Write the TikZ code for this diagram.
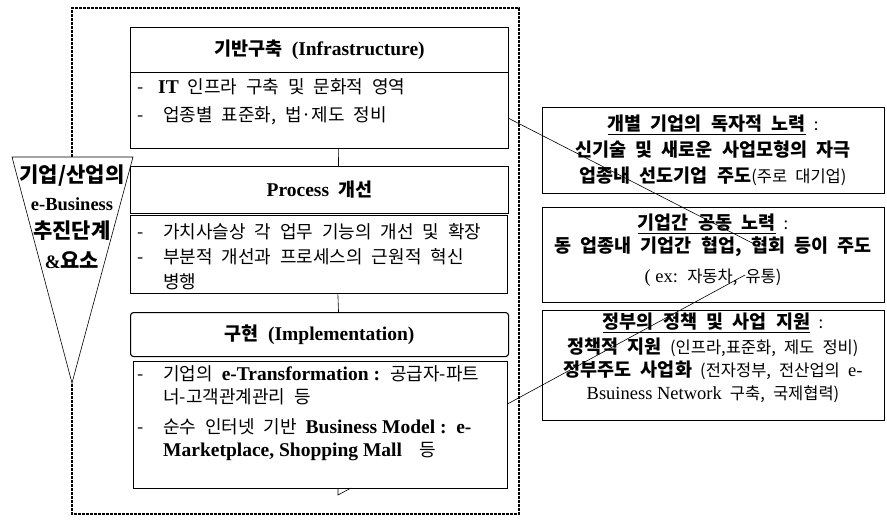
\documentclass[tikz,border=0pt]{standalone}
\usepackage{fontspec}
\setmainfont{Noto Sans CJK KR}[WordSpace=2.2]
\newfontfamily\heavy{Noto Sans CJK KR Black}[WordSpace=2.2]
\newfontfamily\lat{Liberation Serif}
\usetikzlibrary{positioning}
\newcommand{\en}[1]{{\fontsize{19.5}{25}\selectfont\lat\bfseries #1}}
\newcommand{\enh}[1]{{\fontsize{19.5}{25}\selectfont\lat\bfseries #1}}
\newcommand{\enr}[1]{{\fontsize{18.5}{25}\selectfont\lat #1}}
\newcommand{\bk}[1]{{\fontsize{18.5}{25}\selectfont\heavy #1}}
\newcommand{\itm}{\makebox[26pt][l]{-}}
\newcommand{\ind}{\hspace*{26pt}}
\tikzstyle{head} = [rectangle, draw=black, line width=1.1pt, minimum width=378pt, anchor=north west, inner sep=0pt, font=\fontsize{18.5}{20}\selectfont\heavy]
\tikzstyle{body} = [rectangle, draw=black, line width=0.7pt, anchor=north west, inner sep=0pt]
\tikzstyle{side} = [rectangle, draw=black, line width=0.8pt, minimum width=342pt, anchor=north west, inner sep=0pt]
\tikzstyle{btext} = [anchor=north west, inner sep=0pt, align=left]
\tikzstyle{stext} = [anchor=north, inner sep=0pt, align=center, font=\fontsize{16.5}{26}\selectfont]
\tikzstyle{link} = [line width=0.6pt]
\tikzstyle{dotframe} = [line width=2.8pt, dash pattern=on 2.8pt off 1.2pt]

\begin{document}
\begin{tikzpicture}[x=1pt, y=-1pt, font=\fontsize{18}{25}\selectfont]
        \useasboundingbox (0,0) rectangle (887,528);

        \coordinate (tl) at (12,157);
        \coordinate (tr) at (133,157);
        \coordinate (tip) at (72,383);
        \coordinate (ttop) at (72,157);
        \draw[link] (tl) -- (tr) -- (tip) -- cycle;
        \draw[dotframe] (ttop) -- (72,8) -- (519,8) -- (519,514) -- (72,514) -- (tip);
        \node[align=center, inner sep=0pt] (tri) at (72,217) {{\fontsize{21}{32}\selectfont\heavy 기업/산업의}\\[3pt]
            {\fontsize{18.5}{20}\selectfont\lat\bfseries e-Business}\\[3pt]
            {\fontsize{21}{32}\selectfont\heavy 추진단계}\\[5pt]
            {\fontsize{19}{20}\selectfont\lat\bfseries \&}{\fontsize{21}{32}\selectfont\heavy 요소}};

        \node[head, minimum height=45pt] (h1) at (130,27) {기반구축 \enh{(Infrastructure)}};
        \node[body, minimum width=378pt, minimum height=76pt] (b1) at (130,72) {};
        \node[btext, font=\fontsize{18}{28}\selectfont] (b1t) at (137,78) {\makebox[21pt][l]{-}\en{IT} 인프라 구축 및 문화적 영역\\
            \itm 업종별 표준화, 법·제도 정비};

        \node[head, minimum height=47pt] (h2) at (130,166) {\enh{Process} 개선};
        \node[body, minimum width=377pt, minimum height=78pt] (b2) at (130,215) {};
        \node[btext] (b2t) at (137,223) {\itm 가치사슬상 각 업무 기능의 개선 및 확장\\
            \itm 부분적 개선과 프로세스의 근원적 혁신\\
            \ind 병행};

        \node[head, minimum height=44pt, rounded corners=3pt] (h3) at (130,312) {구현 \enh{(Implementation)}};
        \node[body, minimum width=374pt, minimum height=127pt] (b3) at (133,361) {};
        \node[btext, font=\fontsize{18}{23}\selectfont] (b3t) at (137,365) {\itm 기업의 \en{e-Transformation :} 공급자-파트\\
            \ind 너-고객관계관리 등\\[7pt]
            \itm 순수 인터넷 기반 \en{Business Model :\ \ e-}\\
            \ind\en{Marketplace, Shopping Mall}\ \ 등};
        \draw[link] (338,488) -- (338,495) -- (351,488);

        \draw[link] ([xshift=19pt]b1.south) -- ([xshift=19pt]h2.north);
        \draw[link] ([xshift=19pt]b2.south) -- ([xshift=19pt]h3.north);

        \node[side, minimum height=86pt] (r1) at (542,107) {};
        \node[stext] (r1t) at (713,115) {\bk{\underline{개별 기업의 독자적 노력}} :\\
            \bk{신기술 및 새로운 사업모형의 자극}\\
            \bk{업종내 선도기업 주도}(주로 대기업)};

        \node[side, minimum height=95pt] (r2) at (542,207) {};
        \node[stext] (r2t) at (713,214) {\bk{\underline{기업간 공동 노력}} :\\[-3pt]
            \bk{동 업종내 기업간 협업, 협회 등이 주도}\\[4pt]
            \enr{( ex:} 자동차, 유통)};

        \node[side, minimum height=110pt] (r3) at (542,310) {};
        \node[stext, font=\fontsize{16.5}{23}\selectfont] (r3t) at (713,313) {\bk{\underline{정부의 정책 및 사업 지원}} :\\[2pt]
            \bk{정책적 지원} (인프라,표준화, 제도 정비)\\
            \bk{정부주도 사업화} (전자정부, 전산업의 \enr{e-}\\
            \enr{Bsuiness Network} 구축, 국제협력)};

        \coordinate (pa) at (760,247);
        \coordinate (pb) at (745,275);
        \draw[link] ([yshift=-8pt]b1.east) -- (pa);
        \draw[link] ([yshift=21pt]b3.east) -- (pb);
\end{tikzpicture}
\end{document}
